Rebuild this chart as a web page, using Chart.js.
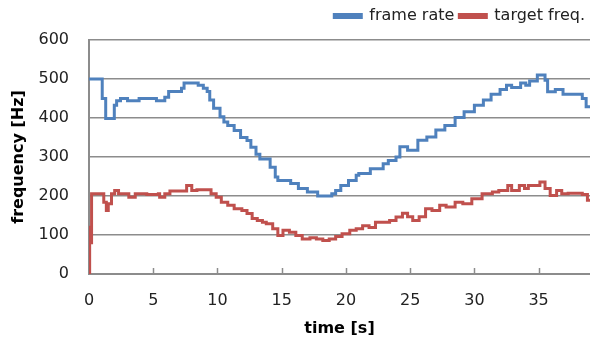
<!DOCTYPE html>
<html>
<head>
<meta charset="utf-8">
<script src="https://cdn.jsdelivr.net/npm/chart.js@4/dist/chart.umd.min.js"></script>
<style>
html, body { margin: 0; padding: 0; background: #ffffff; }
#wrap { width: 590px; height: 347px; position: relative; }
</style>
</head>
<body>
<div id="wrap"><canvas id="freqChart"></canvas></div>
<script>
// time [s] where each frame-rate step starts, and its value [Hz]
var frameTimes = [0, 1.03, 1.3, 1.97, 2.15, 2.45, 3.0, 3.9, 5.25, 5.9,
    6.2, 7.2, 7.4, 8.5, 8.9, 9.2, 9.4, 9.7, 10.2, 10.5,
    10.8, 11.3, 11.8, 12.3, 12.6, 13.0, 13.3, 14.1, 14.5, 14.7,
    15.7, 16.3, 17.0, 17.8, 18.9, 19.2, 19.6, 20.2, 20.8, 21.0,
    21.9, 22.9, 23.3, 23.9, 24.2, 24.8, 25.6, 26.3, 27.0, 27.7,
    28.5, 29.2, 30.0, 30.7, 31.3, 32.0, 32.5, 32.9, 33.6, 34.0,
    34.3, 34.9, 35.5, 35.7, 36.3, 36.9, 38.4, 38.7, 39];
var frameRate = [500, 450, 399, 433, 444, 450, 444, 450, 444, 453,
    468, 476, 490, 484, 476, 468, 446, 425, 403, 390,
    381, 368, 350, 342, 325, 307, 295, 274, 249, 240,
    232, 219, 210, 200, 206, 214, 227, 240, 253, 258,
    270, 283, 291, 300, 326, 317, 343, 351, 369, 381,
    401, 416, 433, 446, 461, 473, 484, 478, 490, 484,
    495, 510, 497, 467, 473, 461, 450, 429, 429];

var targetTimes = [0, 0.05, 0.12, 0.2, 1.0, 1.15, 1.35, 1.5, 1.75, 2.0,
    2.3, 3.0, 3.1, 3.6, 4.5, 5.4, 5.5, 5.9, 6.3, 7.2,
    7.6, 8.0, 8.4, 9.2, 9.5, 9.9, 10.3, 10.8, 11.3, 11.9,
    12.3, 12.7, 13.1, 13.5, 13.8, 14.3, 14.7, 15.1, 15.6, 16.1,
    16.6, 17.2, 17.7, 18.2, 18.7, 19.2, 19.7, 20.3, 20.8, 21.3,
    21.8, 22.3, 22.8, 23.4, 23.9, 24.4, 24.8, 25.2, 25.7, 26.2,
    26.7, 27.3, 27.8, 28.5, 29.1, 29.8, 30.6, 31.4, 31.9, 32.6,
    32.9, 33.5, 33.9, 34.2, 34.8, 35.1, 35.5, 35.9, 36.4, 36.8,
    37.3, 38.1, 38.4, 38.8, 39];
var targetFreq = [0, 120, 80, 206, 206, 184, 163, 180, 206, 214,
    206, 206, 197, 206, 204, 206, 197, 206, 213, 213,
    227, 214, 216, 216, 206, 197, 184, 176, 167, 163,
    155, 142, 137, 133, 129, 116, 99, 112, 107, 99,
    90, 93, 90, 86, 90, 96, 103, 112, 116, 124,
    119, 133, 133, 137, 146, 156, 147, 137, 147, 167,
    163, 176, 172, 184, 180, 193, 206, 210, 214, 227,
    214, 227, 219, 227, 227, 236, 219, 201, 214, 206,
    207, 207, 204, 189, 186];

var xTicks = [0, 5, 10, 15, 20, 25, 30, 35];
var seriesNames = ["frame rate", "target freq."];

function toPoints(xs, ys) {
    var pts = [];
    for (var i = 0; i < xs.length; i++) {
        pts.push({ x: xs[i], y: ys[i] });
    }
    return pts;
}

// small tick marks pointing up into the plot, like the original
var innerTicks = {
    id: "innerTicks",
    beforeDatasetsDraw: function(chart) {
        var ctx = chart.ctx;
        var xs = chart.scales.x;
        var bottom = chart.chartArea.bottom;
        ctx.save();
        ctx.strokeStyle = "#8c8c8c";
        ctx.lineWidth = 1.5;
        for (var i = 1; i < xTicks.length; i++) {
            var px = Math.round(xs.getPixelForValue(xTicks[i])) + 0.5;
            ctx.beginPath();
            ctx.moveTo(px, bottom);
            ctx.lineTo(px, bottom - 6);
            ctx.stroke();
        }
        ctx.restore();
    }
};

// fixed legend band so the plot starts at the same height as the original
var legendGap = {
    id: "legendGap",
    beforeInit: function(chart) {
        var fit = chart.legend.fit;
        chart.legend.fit = function() {
            fit.bind(chart.legend)();
            this.height = 37;
        };
    }
};

var font = "'DejaVu Sans', sans-serif";

new Chart(document.getElementById("freqChart"), {
    type: "line",
    data: {
        datasets: [{
            label: seriesNames[0],
            data: toPoints(frameTimes, frameRate),
            borderColor: "#4f81bd",
            backgroundColor: "#4f81bd",
            borderWidth: 3,
            stepped: true,
            pointRadius: 0
        }, {
            label: seriesNames[1],
            data: toPoints(targetTimes, targetFreq),
            borderColor: "#c0504d",
            backgroundColor: "#c0504d",
            borderWidth: 3,
            stepped: true,
            pointRadius: 0
        }]
    },
    options: {
        responsive: true,
        maintainAspectRatio: false,
        animation: false,
        layout: { padding: { left: 0, right: 0, top: 3, bottom: 0 } },
        plugins: {
            legend: {
                position: "top",
                align: "end",
                labels: {
                    boxWidth: 27,
                    boxHeight: 3,
                    padding: 5,
                    color: "#222222",
                    font: { family: font, size: 16 }
                }
            },
            tooltip: { enabled: false }
        },
        scales: {
            x: {
                type: "linear",
                min: 0,
                max: 39,
                afterFit: function(scale) { scale.height = 73; },
                afterBuildTicks: function(scale) {
                    scale.ticks = xTicks.map(function(v) { return { value: v }; });
                },
                grid: { display: false, drawTicks: false },
                border: { display: true, color: "#8c8c8c", width: 2 },
                ticks: {
                    padding: 17,
                    maxRotation: 0,
                    color: "#222222",
                    font: { family: font, size: 16 }
                },
                title: {
                    display: true,
                    text: "time [s]",
                    color: "#000000",
                    padding: { top: 0, bottom: 9 },
                    font: { family: font, size: 16, weight: "bold" }
                }
            },
            y: {
                min: 0,
                max: 600,
                afterFit: function(scale) { scale.width = 89; },
                ticks: {
                    stepSize: 100,
                    padding: 20,
                    color: "#222222",
                    font: { family: font, size: 16 }
                },
                grid: { color: "#8c8c8c", lineWidth: 1.5, drawTicks: false },
                border: { display: true, color: "#8c8c8c", width: 2 },
                title: {
                    display: true,
                    text: "frequency [Hz]",
                    color: "#000000",
                    padding: { top: 9, bottom: 0 },
                    font: { family: font, size: 16, weight: "bold" }
                }
            }
        }
    },
    plugins: [innerTicks, legendGap]
});
</script>
</body>
</html>
